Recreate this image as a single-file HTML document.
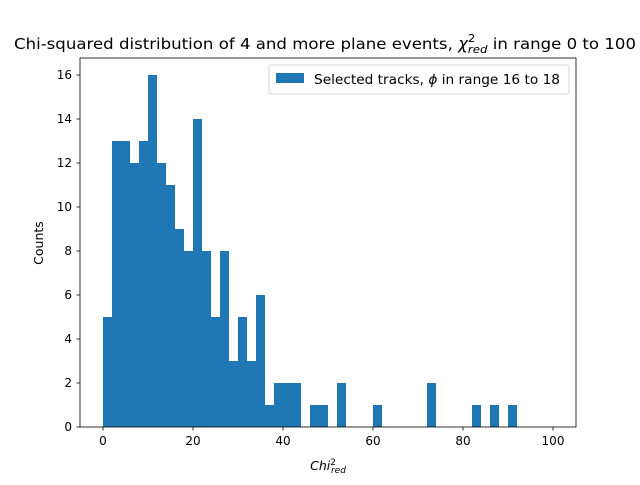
<!DOCTYPE html>
<html><head><meta charset="utf-8"><style>
body{margin:0;background:#fff;}
text{font-family:"DejaVu Sans","Liberation Sans",sans-serif;}
</style></head><body>
<svg id="chart" width="640" height="480" xmlns="http://www.w3.org/2000/svg">
<rect width="640" height="480" fill="#fff"/>
<text x="14" y="49" font-size="15.5" textLength="622" lengthAdjust="spacingAndGlyphs">Chi-squared distribution of 4 and more plane events, <tspan font-style="italic">χ</tspan><tspan font-size="11" dy="-7">2</tspan><tspan font-size="11" font-style="italic" dx="-7" dy="11">red</tspan><tspan dy="-4"> in range 0 to 100</tspan></text>
<g id="bars"></g>
<g id="axes"></g>
<rect x="80" y="58" width="496" height="369" fill="none" stroke="#000" stroke-width="0.8"/>
<text x="43" y="243" font-size="12.5" text-anchor="middle" transform="rotate(-90 43 243)">Counts</text>
<text x="328" y="470" font-size="12.5" text-anchor="middle" font-style="italic">Chi<tspan font-size="9" font-style="normal" dy="-5">2</tspan><tspan font-size="9" dx="-5" dy="8">red</tspan></text>
<g>
<rect x="269" y="65" width="300" height="29" rx="2" fill="#fff" stroke="#ccc" stroke-width="0.8"/>
<rect x="276" y="73" width="28" height="10" fill="#1f77b4"/>
<text x="314" y="84" font-size="13" textLength="246" lengthAdjust="spacingAndGlyphs">Selected tracks, <tspan font-style="italic">ϕ</tspan> in range 16 to 18</text>
</g>
</svg>
<script>
const binStarts=[0,2,4,6,8,10,12,14,16,18,20,22,24,26,28,30,32,34,36,38,40,42,44,46,48,50,52,54,56,58,60,62,64,66,68,70,72,74,76,78,80,82,84,86,88,90,92,94,96,98];
const counts=[5,13,13,12,13,16,12,11,9,8,14,8,5,8,3,5,3,6,1,2,2,2,0,1,1,0,2,0,0,0,1,0,0,0,0,0,2,0,0,0,0,1,0,1,0,1,0,0,0,0];
const xTicks=[0,20,40,60,80,100];
const yTicks=[0,2,4,6,8,10,12,14,16];
const binWidth=2;
const NS="http://www.w3.org/2000/svg";
const sx=v=>103+v*4.5;
const sy=v=>427-v*22;
const bars=document.getElementById('bars');
binStarts.forEach((b,i)=>{
 if(!counts[i])return;
 const r=document.createElementNS(NS,'rect');
 r.setAttribute('x',sx(b));r.setAttribute('width',sx(b+binWidth)-sx(b));
 r.setAttribute('y',sy(counts[i]));r.setAttribute('height',sy(0)-sy(counts[i]));
 r.setAttribute('fill','#1f77b4');
 
 
 bars.appendChild(r);
});
const ax=document.getElementById('axes');
xTicks.forEach(t=>{
 const l=document.createElementNS(NS,'line');
 l.setAttribute('x1',sx(t));l.setAttribute('x2',sx(t));l.setAttribute('y1',427);l.setAttribute('y2',430.5);l.setAttribute('stroke','#000');l.setAttribute('stroke-width','0.8');
 ax.appendChild(l);
 const tx=document.createElementNS(NS,'text');
 tx.setAttribute('x',sx(t));tx.setAttribute('y',445);tx.setAttribute('font-size','12');tx.setAttribute('text-anchor','middle');
 tx.textContent=t;
 
 
 ax.appendChild(tx);
});
yTicks.forEach(t=>{
 const l=document.createElementNS(NS,'line');
 l.setAttribute('x1',76.5);l.setAttribute('x2',80);l.setAttribute('y1',sy(t));l.setAttribute('y2',sy(t));l.setAttribute('stroke','#000');l.setAttribute('stroke-width','0.8');
 ax.appendChild(l);
 const tx=document.createElementNS(NS,'text');
 tx.setAttribute('x',72);tx.setAttribute('y',sy(t)+4);tx.setAttribute('font-size','12');tx.setAttribute('text-anchor','end');
 tx.textContent=t;
 
 
 ax.appendChild(tx);
});
</script>
</body></html>
